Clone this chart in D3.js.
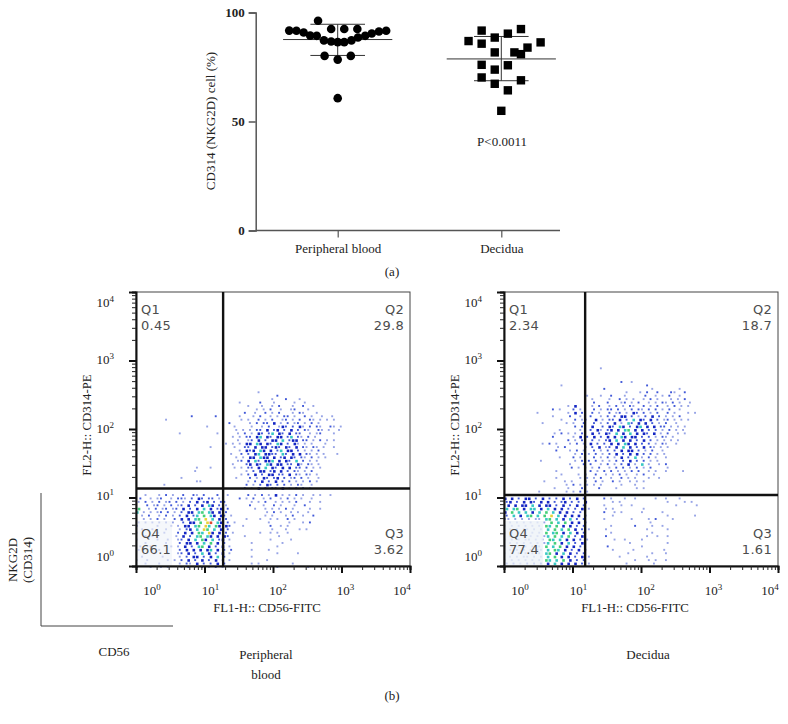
<!DOCTYPE html>
<head>
    <meta charset="utf-8">
    <style>
        html, body { margin: 0; padding: 0; background: #fff; }
        svg { display: block; }
        text { font-family: "Liberation Serif", serif; fill: #222; }
        .gate-label { font-family: "DejaVu Sans", sans-serif; font-size: 13px; fill: #4d4d4d; letter-spacing: 0.3px; }
    </style>
    <script src="https://d3js.org/d3.v7.min.js"></script>
</head>

<body>
    <svg id="chart" width="788" height="724"></svg>

    <script>
        // (a) NKG2D scatter
        var categories = ["Peripheral blood", "Decidua"];
        var yTicks = [0, 50, 100];
        // slot = sideways place of a point in the swarm
        var bloodValues = [96.2, 92.4, 92.4, 92.4, 91.7, 91.6, 90.8, 89.4, 89.3, 87.2, 86.7, 86.4, 86.4, 87.2, 88.5, 89.3, 90.4, 91.3, 91.6, 80.1, 80.1, 78.4, 60.7];
        var bloodSlots = [-3, -1, 1, 3, -7.4, -6.3, -5.2, -4.2, -3.2, -2.1, -1, 0, 1, 2.1, 3.1, 4.2, 5.2, 6.3, 7.4, -2, 2, 0, 0];
        var decidualValues = [91.7, 88.5, 90.3, 92.4, 86.9, 85.7, 86.3, 83.9, 81.7, 81.7, 80.9, 76, 75.8, 73.8, 70.2, 68.9, 67.3, 64.3, 54.9];
        var decidualSlots = [-3, -1, 1, 3, -5, -3, 6, 4, -1, 2, 3, -3, 1, -1, -3, 3, -1, 1, 0];
        var meanValues = [87.6, 78.7];
        var sdLow = [80.3, 68.7];
        var sdHigh = [94.6, 89];

        // (b) flow plots, gates in fluorescence units
        var decadeTicks = [1, 10, 100, 1000, 10000];
        var minorMultiples = [2, 3, 4, 5, 6, 7, 8, 9];
        var bloodGate = [18.7, 13.5];
        var decidualGate = [15.3, 10.9];
        var bloodQuadrants = ["0.45", "29.8", "3.62", "66.1"];
        var decidualQuadrants = ["2.34", "18.7", "1.61", "77.4"];

        // event density in bins of 0.05 decade, top row = 10^3, first column = 10^0
        // . empty, 1 pale blue, 2 blue, 3 dark blue, 4 cyan, 5 green, 6 yellow, 7 red
        var bloodDensity = [
            "", "", "", "", "", "", "", "", "",
            "...................................1",
            ".........................................2",
            ".......................................1...2...1",
            "..............................1.....2...1.....1..1",
            "................................1...1..1.2...1..2..1",
            "...................................1.1.2..1..12...1",
            "...............................2..1..2.1.2...1.21...1",
            "................2......2......1...1.2..1.1.22.1..2.1..1..1",
            "........1.....................1.1..2.1.2..12.1.2..21.1.1.1",
            "...........................2.....1.2.22.3.1.2.12.1.2.1",
            "....................1.......1....1..1.2..132.2.31.2.21..21.1",
            ".............................1.1.1.22.3.23.2.3.2.21..21.1..1",
            "............1..........1.....1.2.1.32.24.32.3.22..1.12...1",
            "............................1.1.22.34.32.33.24.21.2.1",
            ".............................1..12.3.2.33.4.233.22.1.2.1.1",
            "..........................1.1.1.33.43.32.43.2.31.1.1...1",
            ".....................1......1..22.3.33.232.32.3.21.21.1..1",
            "..............................1.323.43.3.24.33.2.1.1.2",
            "...........................1..2.2.34.3322.42.3.3.21.1.1...1",
            ".............................1.1.33.433.3.23.32.21.2.1.1",
            ".............................12.3.42.334.3.32.4.2.1.1",
            "............................1...23.32.43.33.22.31.21.1",
            ".................1...1......1.1.22.3.4.32.3.3.22.2.1.1",
            ".................1..............1.2.33.23.3.2.21.1.2",
            "..............................1.2.3.2.33.22.3.21.21.1",
            ".............1...............1...2.1.32.23.2.12.2.1..1",
            ".................11.............1.2.3.2.3.2.2.1.1.2.1",
            "........1.......................2.1.2.32.2.2.1.21..1",
            "...............................2.1.3.2.22.3.1.2.2.1",
            "",
            "..1...1.2.1..2..21.2...2..1.....2.1.2.1.3.1.1.2.1..1.1..1",
            ".2..1.12..1.221.2.32.22.1.....2.1.2..1.2..1.2.1.1..1",
            "1.2.1.2.12.2.1.2.3.23.2.22.......1.1.2..1.1.1.2...1..1",
            "...2.12.1.2.12.3.2.3.43.2.1......2...1..2.1...1..2",
            "5..1.2.12.12.3.2.3.4.3.23.2.......1..1.1.1.2.1....1..1",
            "4.1.1.12.2.1.2.33.45.43.3.2...........1.2.1..1.1..1",
            ".1.2..1.2.1.2.3.24.5.43.32.1.........1.1...1.2..1..2",
            "..1.1.2.1..2.3.3.45.6.4.3.2.....1...1..1.1..2.1",
            "1.1.1.1.1.1..2.33.5.67.43.2.1.........1.....1...1.2",
            "2.....1...1.1.33.45.64.53.32...1.......2..1.1",
            ".1..1...1...1.23.4.65.4.3.2............1...1...1.1",
            "1.....1.1...2.3.3.54.63.3.2.1.......1..1.1..1",
            "..1.1......1.3.2.45.43.3.32....1.........1",
            "1.....1..1..12.3.4.53.4.23.1...........1.....1",
            "..1.....1...2.33.3.4.5.3.2.......1........1",
            ".1..1.....1.1.3.2.45.3.2.3.1.............1",
            "1.....1.....2.3.3.3.34.3.2.2.....1....1",
            "..1..1...1..12.3.2.4.3.2.3.1.............1.....1",
            ".1.....1....1.2.33.2.3.4.2.......1",
            "1..1.....1.1.2.3.2.3.2.3.1.1..........1",
            "..1...1.....1.21.3.2.2.3.2.......1.1.........1",
            "1...1..1.1...1.2.1.2.1.2.1...............1........1"
        ];
        var decidualDensity = [
            "", "",
            "............................1",
            "", "", "",
            "..................................2..1",
            "................1........................2",
            ".............................2.............1.......1",
            "...................................1...1.2..2...21..2",
            "........................1...1..2...1.....2..1.1.2..1",
            ".........................1....1..2.1.1..1.2.1...1.1.2",
            "..........................2...2...12.1.2..1.1.21.2.1..1",
            "..................1.3....1.2..1.2.1.21..2.1.2..1.2.1.1",
            "..............2.1...2.1...2.1.22.2.1.2.21.2.2.1.2..1",
            ".........1........1.3.2..2.1..2.12.1.32.2.1.2..2.1...1.1",
            "..............1....2..1..2..1.2.2.33.2.1.2.3.2.1.1.2",
            "................1...2.12..3.1.22.3.2.4.32.3.2.12.1.1.1",
            "...........1......1.1..2..2.1.2.3.1.42.3.3.2.1.2..1",
            "....................2.2..3..2.32.43.2.34.3.3.22.1.1.1",
            "................1.....1..2.31.23.3.45.3.3.2.2.1.2.1.1",
            "..............1.2.1.1.2..3.2.32.4.3.4.3.32.3.1.2..1.1",
            "..............2.....1.3.2.3.2.3.3.43.33.2.2.1.21.1",
            "..................2.1.2..2.1.23.4.3.3.2.3.2.1.1.1.1",
            "...........1.2.1...1.2.1.3.2.2.3.3.43.3.2.2.1.21..1",
            "...............1.2.....2.2.3.12.3.4.3.2.3.21.1.1",
            "...............2...1.2.1..2.1.2.2.3.33.2.1.2..1",
            "....................1.2.1.2.1.2.3.2.3.3.2.2.1.1",
            "................1...2.1...2.1.2.1.3.2.4.1.2.1..1",
            "..........1.........1.2.2.2.1.1.2.2.3.2.2.1.1",
            "...................1...2.2..1.2.1.2.3.1.4.1..1.2",
            "...................2.1.1.1.2..1.2.2.1.2.1.2....1",
            "...............1.........2.1.2.2.1.1.2.2..1.1..1....1",
            "................1....1.2..2..1.1.2.1..1.2..1",
            "...............1......1.1.1.2..1..2.1.1...1..1",
            "...........1.....1.1...2..2.1..2.1..1.1.1",
            "..................1.2.1.1.1.1.....1...1",
            "..............1...1...2....2....1.....1.1",
            "..........1.......1.1.2.1",
            "",
            "3.3.2.33.2.3.2.2.3.2.3.2.....2.1...1..1.....1..1...1",
            "23.2.3.32.3.3.2.23.2.2.3.......1.1.............1....1.1",
            ".3.3.33.4.3.33.2.3.2.3.2.....1....1..1............1.....1",
            "4.45.3.44.3.4.3.3.2.2.3.1....1.1........1",
            "3.5.4.4.3.4.5.4.3.3.2.2......2..1.1.....1.....1",
            "2.4.3.45.4.5.6.4.3.3.3.2.......1...............1.......1",
            "11.1.1.1.11.45.4.3.4.2.2.....1.......1....1.2....1",
            ".1.1.1.1.1.1.5.4.5.3.3.2..................1",
            "1.1.1.1.1.1.54.5.3.3.2.2.......1......2....1..1",
            ".1.1.11.1.1.4.5.4.5.3.2.1....1...........1.....1",
            "1.1.1.1.1.1.5.45.3.4.3.2.......1...........1",
            ".1.1.1.1.1.14.5.4.5.2.3......2...........1..1..1",
            "1.1.1.11.1.1.54.4.3.3.2.1.......1..1....1",
            ".1.1.1.1.1.14.5.3.4.2.3.............1..........1",
            "1.1.1.1.1.1.5.4.5.3.3.2.......2.........1",
            ".1.1.1.1.11.4.54.3.2.3.1.......1.....1........1",
            "1.1.1.1.1.1.45.3.4.3.2.2............1......1...1",
            ".1.1.11.1.1.4.5.3.3.2.3.1........1.......1",
            "1.1.1.1.1.1.54.4.5.3.2.2..............1...1.1..1",
            "2.2.1.2.2.2.3.4.3.3.3.2.1..........1.......1"
        ];

        var densityColors = { 1: "#97a4e6", 2: "#4058d8", 3: "#1426c4", 4: "#38c8c4", 5: "#44d078", 6: "#e8d238", 7: "#e04a30" };

        var svg = d3.select("#chart");

        // ---- (a) ----
        var swarm = d3.scaleLinear().domain([-1, 1]).range([-6.55, 6.55]);
        var x = d3.scalePoint().domain(categories).range([337.7, 501.3]);
        var y = d3.scaleLinear().domain([0, 100]).range([230.5, 12.5]);

        var yAxis = svg.append("g")
            .attr("transform", "translate(255.7,0)")
            .call(d3.axisLeft(y).tickValues(yTicks).tickSize(7).tickPadding(4));
        yAxis.selectAll("text").attr("font-weight", "bold").style("font-size", "13px").attr("font-family", "Liberation Serif");
        yAxis.selectAll("line, path").attr("stroke", "#555").attr("stroke-width", 1.5);

        var xAxis = svg.append("g")
            .attr("transform", "translate(0,230.5)")
            .call(d3.axisBottom(x).tickSize(7).tickPadding(6));
        xAxis.select(".domain").remove();
        xAxis.selectAll("line").attr("stroke", "#555").attr("stroke-width", 1.2);
        xAxis.selectAll("text").style("font-size", "13px").attr("font-family", "Liberation Serif");
        svg.append("line").attr("x1", 255.7).attr("x2", 560).attr("y1", 230.5).attr("y2", 230.5)
            .attr("stroke", "#555").attr("stroke-width", 1.5);

        svg.append("text")
            .attr("transform", "translate(215,121) rotate(-90)")
            .attr("text-anchor", "middle").attr("font-size", 13)
            .text("CD314 (NKG2D) cell (%)");

        // mean and sd lines
        categories.forEach(function (c, i) {
            var g = svg.append("g").attr("stroke", "#333").attr("stroke-width", 1);
            g.append("line").attr("x1", x(c) - 54.6).attr("x2", x(c) + 54.6).attr("y1", y(meanValues[i])).attr("y2", y(meanValues[i]));
            g.append("line").attr("x1", x(c)).attr("x2", x(c)).attr("y1", y(sdLow[i])).attr("y2", y(sdHigh[i]));
            [sdLow[i], sdHigh[i]].forEach(function (v) {
                g.append("line").attr("x1", x(c) - 27.3).attr("x2", x(c) + 27.3).attr("y1", y(v)).attr("y2", y(v));
            });
        });

        svg.append("g").selectAll("circle")
            .data(bloodValues)
            .enter().append("circle")
            .attr("cx", function (d, i) { return x(categories[0]) + swarm(bloodSlots[i]); })
            .attr("cy", function (d) { return y(d); })
            .attr("r", 4.3)
            .attr("fill", "#000");

        svg.append("g").selectAll("rect")
            .data(decidualValues)
            .enter().append("rect")
            .attr("x", function (d, i) { return x(categories[1]) + swarm(decidualSlots[i]) - 4.2; })
            .attr("y", function (d) { return y(d) - 4.2; })
            .attr("width", 8.4)
            .attr("height", 8.4)
            .attr("fill", "#000");

        svg.append("text").attr("x", 502).attr("y", 146).attr("text-anchor", "middle").attr("font-size", 13).text("P<0.0011");
        svg.append("text").attr("x", 392).attr("y", 276).attr("text-anchor", "middle").attr("font-size", 13).text("(a)");

        // ---- (b) ----
        function flowPlot(left, density, gate, quadrants, washWidth, washOpacity) {
            var fx = d3.scaleLog().domain([1, 10000]).range([left, left + 274]);
            var fy = d3.scaleLog().domain([1, 10000]).range([566, 292]);
            var g = svg.append("g");

            // density bins
            var cells = [];
            density.forEach(function (row, r) {
                row.split("").forEach(function (c, i) {
                    if (c !== ".") cells.push({ row: r, col: i, level: +c });
                });
            });
            var binStep = 0.05;
            // odd rows stagger by half a bin so the bins do not read as columns
            function colValue(d) { return (d.col + (d.row % 2 ? 0.5 : 0)) * binStep; }
            g.append("g").selectAll("rect")
                .data(cells)
                .enter().append("rect")
                .attr("x", function (d) { return fx(Math.pow(10, colValue(d))); })
                .attr("y", function (d) { return fy(Math.pow(10, 3 - d.row * binStep)); })
                .attr("width", function (d) { return d.level > 2 ? 2.6 : 1.9; })
                .attr("height", function (d) { return d.level > 2 ? 2.6 : 1.9; })
                .attr("fill", function (d) { return densityColors[d.level]; });

            // label wash over Q4
            g.append("rect").attr("x", left).attr("y", 521)
                .attr("width", washWidth).attr("height", 45)
                .attr("fill", "#eef2f8").attr("opacity", washOpacity);

            g.append("rect").attr("x", left).attr("y", 292).attr("width", 274).attr("height", 274)
                .attr("fill", "none").attr("stroke", "#444").attr("stroke-width", 1);

            // gates
            g.append("line").attr("x1", fx(gate[0])).attr("x2", fx(gate[0])).attr("y1", 292).attr("y2", 566)
                .attr("stroke", "#111").attr("stroke-width", 2.4);
            g.append("line").attr("x1", left).attr("x2", left + 274).attr("y1", fy(gate[1])).attr("y2", fy(gate[1]))
                .attr("stroke", "#111").attr("stroke-width", 2.4);

            // log ticks
            var minorTicks = [];
            decadeTicks.slice(0, 4).forEach(function (d) {
                minorMultiples.forEach(function (m) { minorTicks.push(d * m); });
            });
            var axes = [
                { axis: d3.axisBottom(fx), at: "translate(0,566)" },
                { axis: d3.axisLeft(fy), at: "translate(" + left + ",0)" }
            ];
            axes.forEach(function (a) {
                var minor = g.append("g").attr("transform", a.at)
                    .call(a.axis.tickValues(minorTicks).tickSize(4).tickFormat(""));
                minor.select(".domain").attr("stroke", "#111").attr("stroke-width", 2);
                minor.selectAll("line").attr("stroke", "#222").attr("stroke-width", 1);
                var major = g.append("g").attr("transform", a.at)
                    .call(a.axis.tickValues(decadeTicks).tickSize(7).tickFormat(""));
                major.select(".domain").remove();
                major.selectAll("line").attr("stroke", "#111").attr("stroke-width", 2);
            });

            // decade labels sit off their ticks in the original
            var xShift = [16, 6, 5, 4, -8];
            var yShift = [-9, -2, 0, -1, 11];
            decadeTicks.forEach(function (d, i) {
                var power = Math.round(Math.log10(d));
                var tx = g.append("text").attr("x", fx(d) + xShift[i]).attr("y", 595)
                    .attr("text-anchor", "middle").attr("font-size", 13).text("10");
                tx.append("tspan").attr("dy", -5).attr("font-size", 9).text(power);
                var ty = g.append("text").attr("x", left - 22).attr("y", fy(d) + yShift[i] + 4)
                    .attr("text-anchor", "end").attr("font-size", 13).text("10");
                ty.append("tspan").attr("dy", -5).attr("font-size", 9).text(power);
            });

            g.append("text").attr("x", left + 131).attr("y", 612).attr("text-anchor", "middle")
                .attr("font-size", 12.8).text("FL1-H:: CD56-FITC");
            g.append("text").attr("transform", "translate(" + (left - 45) + ",425) rotate(-90)")
                .attr("text-anchor", "middle").attr("font-size", 12.8).text("FL2-H:: CD314-PE");

            // quadrant names and percentages
            var quadNames = ["Q1", "Q2", "Q3", "Q4"];
            quadNames.forEach(function (q, i) {
                var onRight = i === 1 || i === 2;
                var onBottom = i >= 2;
                var qx = onRight ? left + 268 : left + 5;
                var qy = onBottom ? 538 : 314;
                var t = g.append("g").attr("text-anchor", onRight ? "end" : "start");
                t.append("text").attr("class", "gate-label").attr("x", qx).attr("y", qy).text(q);
                t.append("text").attr("class", "gate-label").attr("x", qx).attr("y", qy + 15.5).text(quadrants[i]);
            });
        }

        flowPlot(136, bloodDensity, bloodGate, bloodQuadrants, 36, 0.6);
        flowPlot(504, decidualDensity, decidualGate, decidualQuadrants, 39, 0.8);

        // small direction key and captions
        svg.append("path").attr("d", d3.line()([[41, 493], [41, 626], [173, 626]]))
            .attr("fill", "none").attr("stroke", "#444").attr("stroke-width", 1);
        svg.append("text").attr("transform", "translate(17,560) rotate(-90)")
            .attr("text-anchor", "middle").attr("font-size", 13).text("NKG2D");
        svg.append("text").attr("transform", "translate(32,560) rotate(-90)")
            .attr("text-anchor", "middle").attr("font-size", 13).text("(CD314)");
        svg.append("text").attr("x", 114).attr("y", 656).attr("text-anchor", "middle").attr("font-size", 13).text("CD56");
        svg.append("text").attr("x", 266).attr("y", 659).attr("text-anchor", "middle").attr("font-size", 13).text("Peripheral");
        svg.append("text").attr("x", 266).attr("y", 679).attr("text-anchor", "middle").attr("font-size", 13).text("blood");
        svg.append("text").attr("x", 648).attr("y", 659).attr("text-anchor", "middle").attr("font-size", 13).text("Decidua");
        svg.append("text").attr("x", 392).attr("y", 700).attr("text-anchor", "middle").attr("font-size", 13).text("(b)");
    </script>
</body>
